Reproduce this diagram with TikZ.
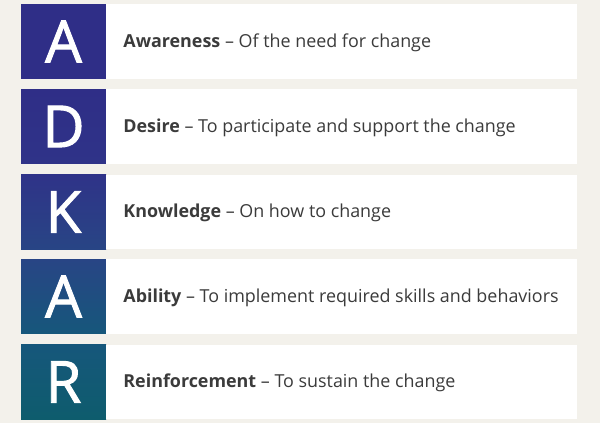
\documentclass[tikz,border=0pt]{standalone}
\usepackage{fontspec}
\setmainfont{Open Sans}
\newfontfamily\letterfont{Open Sans}[FakeBold=1.6]
\usepackage{tikz}
\usepackage{xcolor}
\usetikzlibrary{positioning}

\definecolor{bgbeige}{HTML}{F3F1EB}
\definecolor{textgray}{HTML}{3B3B3B}
\definecolor{indigoA}{HTML}{2F2E87}
\definecolor{indigoB}{HTML}{2F3388}
\definecolor{blueD}{HTML}{284585}
\definecolor{tealF}{HTML}{16577B}
\definecolor{tealH}{HTML}{0E5C6D}

\tikzset{
	letterbox/.style={minimum width=85pt, minimum height=74.5pt, inner sep=0pt,
		text=white, font=\letterfont\fontsize{58}{58}\selectfont},
	rowbox/.style={fill=white, anchor=west, minimum width=471pt, minimum height=74.5pt, inner sep=0pt},
	rowtext/.style={text=textgray, font=\fontsize{17.9}{20}\selectfont, inner sep=0pt}
}

\begin{document}
\begin{tikzpicture}[x=1pt, y=-1pt]
	\fill[bgbeige] (0,0) rectangle (600,423);
	% A
	\node[letterbox, top color=indigoA, bottom color=indigoA] (la) at (63.5,41.5) {A};
	\node[rowbox] (ra) at (la.east) {};
	\node[rowtext, right=17pt of la, yshift=-1pt] (ta) {\textbf{Awareness} – Of the need for change};
	% D
	\node[letterbox, top color=indigoA, bottom color=indigoB] (ld) at (63.5,126.5) {D};
	\node[rowbox] (rd) at (ld.east) {};
	\node[rowtext, right=17pt of ld, yshift=-1pt] (td) {\textbf{Desire} – To participate and support the change};
	% K
	\node[letterbox, top color=indigoB, bottom color=blueD] (lk) at (63.5,212) {K};
	\node[rowbox] (rk) at (lk.east) {};
	\node[rowtext, right=17pt of lk, yshift=-1pt] (tk) {\textbf{Knowledge} – On how to change};
	% A
	\node[letterbox, top color=blueD, bottom color=tealF] (lb) at (63.5,296.5) {A};
	\node[rowbox] (rb) at (lb.east) {};
	\node[rowtext, right=17pt of lb, yshift=-1pt] (tb) {\textbf{Ability} – To implement required skills and behaviors};
	% R
	\node[letterbox, top color=tealF, bottom color=tealH] (lr) at (63.5,382) {R};
	\node[rowbox] (rr) at (lr.east) {};
	\node[rowtext, right=17pt of lr, yshift=-1pt] (tr) {\textbf{Reinforcement} – To sustain the change};
\end{tikzpicture}
\end{document}
